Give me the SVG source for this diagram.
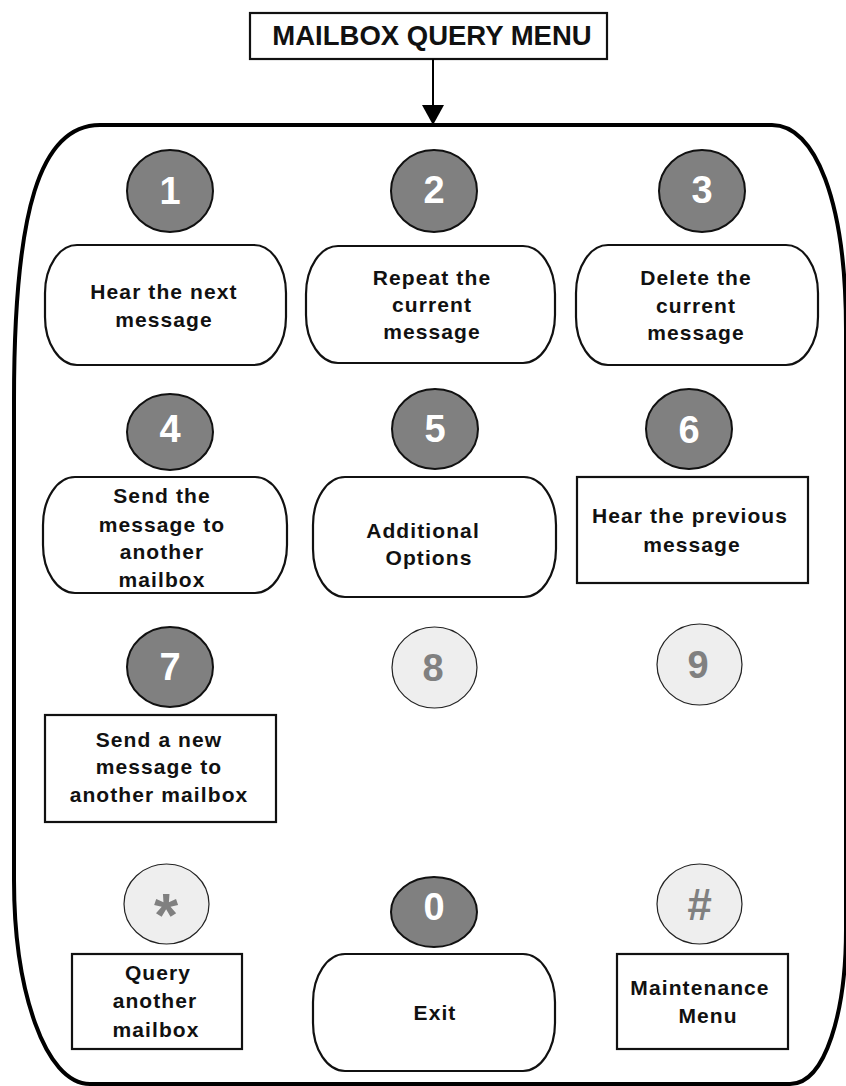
<svg xmlns="http://www.w3.org/2000/svg" width="846" height="1086" viewBox="0 0 846 1086">
<defs>
<style>
text{font-family:"Liberation Sans",Arial,sans-serif;font-weight:bold}
.lbl{font-size:21px;letter-spacing:1.1px;fill:#111;text-anchor:middle}
.title{font-size:27.5px;fill:#111;text-anchor:middle}
.dk{fill:#808080;stroke:#111;stroke-width:2}
.lt{fill:#eeeeee;stroke:#222;stroke-width:1.2}
.dnum{font-size:38px;fill:#fff;text-anchor:middle}
.lnum{font-size:38px;fill:#808080;text-anchor:middle}
.box{fill:#fff;stroke:#111;stroke-width:2.2}
.frame{fill:none;stroke:#000;stroke-width:4}
.conn{stroke:#000;stroke-width:2;fill:none}
</style>
<marker id="ah" markerWidth="21" markerHeight="22" refX="20" refY="11" orient="auto" markerUnits="userSpaceOnUse" viewBox="0 0 20 22">
<path d="M0,0 L20,11 L0,22 Z" fill="#000"/>
</marker>
</defs>
<rect width="846" height="1086" fill="#fff"/>
<path id="frame" class="frame" d="M100,125 L772,125 C815,125 846,200 846,330 L846,930 C846,1010 826,1084 790,1084 L90,1084 C45,1084 14,990 14,880 L14,400 C14,210 40,125 100,125 Z"/>
<g id="title">
<rect class="box" x="250" y="13" width="357" height="46"/>
<text class="title" x="432" y="45">MAILBOX QUERY MENU</text>
</g>
<g id="connectors">
<path class="conn" d="M433,59 L433,125" marker-end="url(#ah)"/>
</g>
<g id="k1"><ellipse class="dk" cx="170" cy="191" rx="43" ry="41"/><text class="dnum" x="170" y="204">1</text></g>
<g id="k2"><ellipse class="dk" cx="434" cy="191" rx="43" ry="41"/><text class="dnum" x="434" y="203">2</text></g>
<g id="k3"><ellipse class="dk" cx="702" cy="191" rx="43" ry="41"/><text class="dnum" x="702" y="203">3</text></g>
<g id="n1"><rect class="box" x="45" y="245" width="241" height="120" rx="32" ry="48"/>
<text class="lbl" x="164" y="299">Hear the next</text><text class="lbl" x="164" y="327">message</text></g>
<g id="n2"><rect class="box" x="306" y="246" width="249" height="117" rx="32" ry="48"/>
<text class="lbl" x="432" y="285">Repeat the</text><text class="lbl" x="432" y="312">current</text><text class="lbl" x="432" y="339">message</text></g>
<g id="n3"><rect class="box" x="576" y="245" width="242" height="120" rx="32" ry="48"/>
<text class="lbl" x="696" y="285">Delete the</text><text class="lbl" x="696" y="313">current</text><text class="lbl" x="696" y="340">message</text></g>
<g id="k4"><ellipse class="dk" cx="170" cy="432" rx="43" ry="38"/><text class="dnum" x="170" y="442">4</text></g>
<g id="k5"><ellipse class="dk" cx="435" cy="429" rx="43" ry="40"/><text class="dnum" x="435" y="442">5</text></g>
<g id="k6"><ellipse class="dk" cx="689" cy="429" rx="43" ry="40"/><text class="dnum" x="689" y="443">6</text></g>
<g id="n4"><rect class="box" x="43" y="477" width="244" height="116" rx="32" ry="48"/>
<text class="lbl" x="162" y="503">Send the</text><text class="lbl" x="162" y="532">message to</text><text class="lbl" x="162" y="559">another</text><text class="lbl" x="162" y="587">mailbox</text></g>
<g id="n5"><rect class="box" x="313" y="477" width="243" height="120" rx="32" ry="48"/>
<text class="lbl" x="423" y="538">Additional</text><text class="lbl" x="429" y="565">Options</text></g>
<g id="n6"><rect class="box" x="577" y="477" width="231" height="106"/>
<text class="lbl" x="690" y="523">Hear the previous</text><text class="lbl" x="692" y="552">message</text></g>
<g id="k7"><ellipse class="dk" cx="170" cy="667" rx="43" ry="40"/><text class="dnum" x="170" y="680">7</text></g>
<g id="k8"><ellipse class="lt" cx="434.5" cy="667.5" rx="42.5" ry="40.5"/><text class="lnum" x="433" y="681">8</text></g>
<g id="k9"><ellipse class="lt" cx="699.5" cy="664.5" rx="42.5" ry="40.5"/><text class="lnum" x="698" y="678">9</text></g>
<g id="n7"><rect class="box" x="45" y="715" width="231" height="107"/>
<text class="lbl" x="159" y="747">Send a new</text><text class="lbl" x="159" y="774">message to</text><text class="lbl" x="159" y="802">another mailbox</text></g>
<g id="kstar"><ellipse class="lt" cx="166.5" cy="904" rx="42.5" ry="40"/><text class="lnum" style="font-size:62px" x="166" y="936">*</text></g>
<g id="k0"><ellipse class="dk" cx="434" cy="912" rx="43" ry="35"/><text class="dnum" x="434" y="920">0</text></g>
<g id="khash"><ellipse class="lt" cx="699.5" cy="904" rx="42.5" ry="40"/><text class="lnum" style="font-size:44px;font-style:italic" x="699" y="920">#</text></g>
<g id="nstar"><rect class="box" x="72" y="954" width="170" height="95"/>
<text class="lbl" x="158" y="980">Query</text><text class="lbl" x="155" y="1008">another</text><text class="lbl" x="156" y="1037">mailbox</text></g>
<g id="n0"><rect class="box" x="313" y="954" width="242" height="117" rx="32" ry="48"/>
<text class="lbl" x="435" y="1020">Exit</text></g>
<g id="nhash"><rect class="box" x="617" y="954" width="171" height="95"/>
<text class="lbl" x="700" y="995">Maintenance</text><text class="lbl" x="708" y="1023">Menu</text></g>
</svg>
